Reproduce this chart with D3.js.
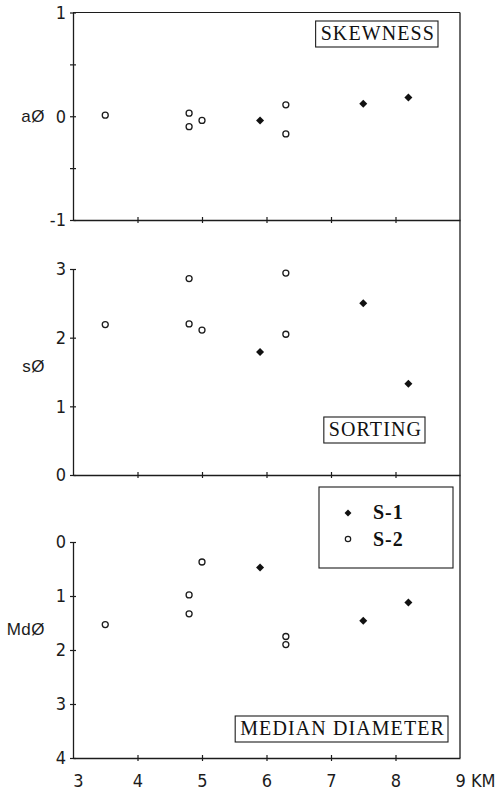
<html>
<head>
<title>Grain size parameters vs distance</title>
<style>
  body { margin: 0; background: #fff; }
  .num { font-family: "Liberation Sans Narrow", "DejaVu Sans Condensed", "Liberation Sans", sans-serif; font-size: 18px; fill: #1c1c1c; }
  .ylab { font-family: "Liberation Sans", "DejaVu Sans", sans-serif; font-size: 17px; fill: #1c1c1c; letter-spacing: 0.5px; }
  .tag { font-family: "Liberation Serif", "DejaVu Serif", serif; font-size: 20px; fill: #111; letter-spacing: 1.1px; }
</style>
</head>
<body>
<div id="chart"></div>
<script src="https://cdn.jsdelivr.net/npm/d3@7"></script>
<script>
// distance along the profile (km) for each sample
var kmS1 = [5.9, 7.5, 8.2];
var kmS2 = [3.5, 4.8, 4.8, 5.0, 6.3, 6.3];

// skewness (a phi)
var skewS1 = [-0.04, 0.12, 0.18];
var skewS2 = [0.01, 0.03, -0.10, -0.04, 0.11, -0.17];
// sorting (s phi)
var sortS1 = [1.79, 2.50, 1.33];
var sortS2 = [2.19, 2.86, 2.20, 2.11, 2.94, 2.05];
// median diameter (Md phi)
var mdS1 = [0.47, 1.46, 1.12];
var mdS2 = [1.53, 0.98, 1.33, 0.37, 1.75, 1.90];

var kmTicks = [3, 4, 5, 6, 7, 8, 9];
var kmLabels = ["3", "4", "5", "6", "7", "8", "9 KM"];
var skewTicks = [-1, -0.5, 0, 0.5, 1];
var sortTicks = [0, 1, 2, 3];
var mdTicks = [0, 1, 2, 3, 4];
var seriesNames = ["S-1", "S-2"];

var W = 501, H = 793;
var ink = "#1c1c1c";

var svg = d3.select("#chart").append("svg")
    .attr("width", W)
    .attr("height", H);

var x = d3.scaleLinear().domain([3, 9]).range([73, 460]);

var panels = [
    { name: "SKEWNESS", ylab: "aØ", y: d3.scaleLinear().domain([-1, 1]).range([220, 12.5]),
      ticks: skewTicks, s1: skewS1, s2: skewS2, tagX: 435, tagY: 40, labY: 116 },
    { name: "SORTING", ylab: "sØ", y: d3.scaleLinear().domain([0, 3]).range([475, 269]),
      ticks: sortTicks, s1: sortS1, s2: sortS2, tagX: 422, tagY: 436, labY: 366 },
    { name: "MEDIAN DIAMETER", ylab: "MdØ", y: d3.scaleLinear().domain([0, 4]).range([542, 758]),
      ticks: mdTicks, s1: mdS1, s2: mdS2, tagX: 445, tagY: 735, labY: 629 }
];

var last = panels.length - 1;

// top frame line and the continuous right border
svg.append("line")
    .attr("x1", x(3)).attr("x2", x(9))
    .attr("y1", panels[0].y(1)).attr("y2", panels[0].y(1))
    .attr("stroke", ink).attr("stroke-width", 1.2);
svg.append("line")
    .attr("x1", x(9)).attr("x2", x(9))
    .attr("y1", panels[0].y(1)).attr("y2", panels[last].y(4))
    .attr("stroke", ink).attr("stroke-width", 1.3);

panels.forEach(function (p, i) {
    var base = d3.max(p.y.range());

    // Y axis
    var ya = svg.append("g")
        .attr("transform", "translate(" + x(3) + ",0)")
        .call(d3.axisLeft(p.y)
            .tickValues(p.ticks)
            .tickSize(3)
            .tickSizeOuter(0)
            .tickFormat(function (d) { return Number.isInteger(d) ? String(d) : ""; }));
    ya.select(".domain").attr("stroke", ink).attr("stroke-width", 1.3);
    ya.selectAll(".tick line").attr("x1", -3).attr("x2", 3).attr("stroke", ink).attr("stroke-width", 1.2);
    ya.selectAll(".tick text").attr("class", "num").attr("x", -7).attr("font-family", null).attr("font-size", null);

    // X axis
    var xa = svg.append("g")
        .attr("transform", "translate(0," + base + ")")
        .call(d3.axisBottom(x)
            .tickValues(i === last ? kmTicks : kmTicks.slice(1, -1))
            .tickSize(3)
            .tickSizeOuter(0)
            .tickFormat(function (d) { return i === last ? kmLabels[kmTicks.indexOf(d)] : ""; }));
    xa.select(".domain").attr("stroke", ink).attr("stroke-width", 1.4);
    xa.selectAll(".tick line")
        .attr("y1", -3).attr("y2", 3)
        .attr("stroke", ink).attr("stroke-width", 1.2)
        .style("display", function (d) { return d === 3 || d === 9 ? "none" : null; });
    xa.selectAll(".tick text")
        .attr("class", "num").attr("font-family", null).attr("font-size", null)
        .attr("y", 16)
        .attr("text-anchor", function (d) { return d === 9 ? "start" : "middle"; })
        .attr("dx", function (d) { return d === 3 ? 5 : (d === 9 ? -5 : 0); });

    // Y label
    svg.append("text")
        .attr("class", "ylab")
        .attr("x", 45)
        .attr("y", p.labY)
        .attr("dy", "0.35em")
        .attr("text-anchor", "end")
        .text(p.ylab);

    // boxed panel title
    var t = svg.append("text")
        .attr("class", "tag")
        .attr("x", p.tagX)
        .attr("y", p.tagY)
        .attr("text-anchor", "end")
        .text(p.name);
    var bb = t.node().getBBox();
    svg.insert("rect", "text.tag")
        .attr("x", bb.x - 5).attr("y", bb.y - 1)
        .attr("width", bb.width + 8).attr("height", bb.height + 4)
        .attr("fill", "#fff").attr("stroke", ink).attr("stroke-width", 1.1);

    // S-2 open circles
    svg.append("g").selectAll("circle")
        .data(kmS2.map(function (k, j) { return [k, p.s2[j]]; }))
        .enter().append("circle")
        .attr("cx", function (d) { return x(d[0]); })
        .attr("cy", function (d) { return p.y(d[1]); })
        .attr("r", 3)
        .attr("fill", "#fff")
        .attr("stroke", ink)
        .attr("stroke-width", 1.3);

    // S-1 filled diamonds
    svg.append("g").selectAll("path")
        .data(kmS1.map(function (k, j) { return [k, p.s1[j]]; }))
        .enter().append("path")
        .attr("d", d3.symbol().type(d3.symbolSquare).size(32))
        .attr("transform", function (d) {
            return "translate(" + x(d[0]) + "," + p.y(d[1]) + ") rotate(45)";
        })
        .attr("fill", "#111");
});

// legend
var lg = svg.append("g");
lg.append("rect")
    .attr("x", 319).attr("y", 487)
    .attr("width", 134).attr("height", 81)
    .attr("fill", "#fff").attr("stroke", ink).attr("stroke-width", 1.1);
lg.append("path")
    .attr("d", d3.symbol().type(d3.symbolSquare).size(24))
    .attr("transform", "translate(348,513) rotate(45)")
    .attr("fill", "#111");
lg.append("circle")
    .attr("cx", 348).attr("cy", 539).attr("r", 2.7)
    .attr("fill", "#fff").attr("stroke", ink).attr("stroke-width", 1.2);
lg.selectAll("text.leg")
    .data(seriesNames)
    .enter().append("text")
    .attr("class", "tag leg")
    .attr("x", 373)
    .attr("y", function (d, i) { return 519 + i * 27; })
    .style("font-weight", "bold")
    .style("letter-spacing", "1px")
    .text(function (d) { return d; });
</script>
</body>
</html>
